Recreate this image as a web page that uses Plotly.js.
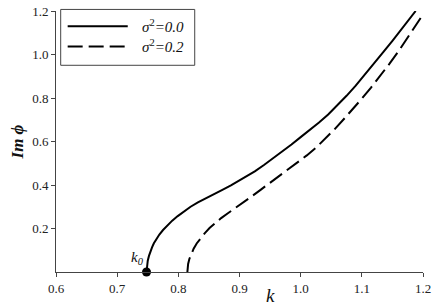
<!DOCTYPE html>
<html>
<head>
<meta charset="utf-8">
<script src="https://cdn.plot.ly/plotly-3.0.1.min.js"></script>
<style>html,body{margin:0;padding:0;background:#fff;}#chart{width:436px;height:307px;}</style>
</head>
<body>
<div id="chart"></div>
<script>
// sigma^2 = 0.0 (solid)
var k_s0 = [0.748, 0.7485, 0.749, 0.750, 0.752, 0.754, 0.757, 0.760, 0.764, 0.769, 0.775, 0.782, 0.790, 0.799, 0.809, 0.820, 0.832, 0.845, 0.858, 0.872, 0.886, 0.900, 0.910, 0.925, 0.940, 0.955, 0.970, 0.985, 1.000, 1.015, 1.030, 1.045, 1.060, 1.075, 1.090, 1.105, 1.120, 1.135, 1.150, 1.165, 1.178, 1.188];
var im_s0 = [0.0, 0.025, 0.036, 0.052, 0.074, 0.092, 0.113, 0.132, 0.152, 0.172, 0.193, 0.214, 0.236, 0.257, 0.279, 0.300, 0.320, 0.340, 0.358, 0.378, 0.398, 0.420, 0.437, 0.463, 0.492, 0.522, 0.553, 0.586, 0.620, 0.653, 0.687, 0.724, 0.766, 0.810, 0.857, 0.907, 0.959, 1.011, 1.063, 1.116, 1.163, 1.2];
// sigma^2 = 0.2 (dashed)
var k_s2 = [0.8148, 0.8153, 0.816, 0.818, 0.821, 0.825, 0.830, 0.836, 0.843, 0.851, 0.860, 0.870, 0.881, 0.893, 0.906, 0.920, 0.935, 0.950, 0.965, 0.980, 0.995, 1.010, 1.025, 1.040, 1.055, 1.070, 1.085, 1.100, 1.115, 1.130, 1.145, 1.160, 1.175, 1.188, 1.199];
var im_s2 = [0.0, 0.024, 0.037, 0.060, 0.083, 0.107, 0.131, 0.154, 0.178, 0.202, 0.225, 0.248, 0.270, 0.293, 0.319, 0.348, 0.379, 0.410, 0.441, 0.472, 0.503, 0.536, 0.571, 0.611, 0.655, 0.701, 0.748, 0.797, 0.848, 0.901, 0.957, 1.015, 1.077, 1.133, 1.18];
// critical point k0
var k0 = [0.748];
var k0y = [0];
var names = ['<i>σ</i><sup>2</sup><i>=0.0</i>', '<i>σ</i><sup>2</sup><i>=0.2</i>'];
var xTicks = [0.6, 0.7, 0.8, 0.9, 1.0, 1.1, 1.2];
var xTickText = ['0.6', '0.7', '0.8', '0.9', '1.0', '1.1', '1.2'];
var yTicks = [0.2, 0.4, 0.6, 0.8, 1.0, 1.2];
var yTickText = ['0.2', '0.4', '0.6', '0.8', '1.0', '1.2'];

var serif = '"Liberation Serif", "Times New Roman", serif';
var dashPat = '15px,6px';
var traces = [
  {x: k_s0, y: im_s0, mode: 'lines', name: names[0], showlegend: false, line: {color: '#000', width: 2, shape: 'linear'}},
  {x: k_s2, y: im_s2, mode: 'lines', name: names[1], showlegend: false, line: {color: '#000', width: 2, dash: dashPat, shape: 'linear'}},
  {x: k0, y: k0y, mode: 'markers', showlegend: false, cliponaxis: false, marker: {color: '#000', size: 9}}
];
// legend box drawn in paper coordinates
var shapes = [
  {type: 'rect', xref: 'paper', yref: 'paper', x0: 0.0128, x1: 0.378, y0: 0.792, y1: 1.006, line: {color: '#444', width: 1}, fillcolor: '#fff'},
  {type: 'line', xref: 'paper', yref: 'paper', x0: 0.0318, x1: 0.1955, y0: 0.9415, y1: 0.9415, line: {color: '#000', width: 2}},
  {type: 'line', xref: 'paper', yref: 'paper', x0: 0.0318, x1: 0.1955, y0: 0.864, y1: 0.864, line: {color: '#000', width: 2, dash: dashPat}}
];
var layout = {
  width: 436, height: 307,
  margin: {l: 56, r: 13, t: 11, b: 35},
  paper_bgcolor: '#fff', plot_bgcolor: '#fff',
  font: {family: serif, size: 13, color: '#222'},
  showlegend: false,
  shapes: shapes,
  xaxis: {range: [0.6, 1.2], tickvals: xTicks, ticktext: xTickText, showgrid: false, zeroline: false,
          showline: true, linecolor: '#444', linewidth: 1, ticks: 'outside', ticklen: 4, tickcolor: '#444',
          tickfont: {family: serif, size: 13, color: '#222'}},
  yaxis: {range: [0, 1.2], tickvals: yTicks, ticktext: yTickText, showgrid: false, zeroline: false,
          showline: true, linecolor: '#444', linewidth: 1, ticks: 'outside', ticklen: 4, tickcolor: '#444',
          tickfont: {family: serif, size: 13, color: '#222'},
          title: {text: '<i><b>Im ϕ</b></i>', font: {family: serif, size: 17, color: '#111'}, standoff: 4}},
  annotations: [
    {xref: 'paper', yref: 'paper', x: 0.585, y: -0.09, xanchor: 'center', yanchor: 'middle', showarrow: false,
     text: '<i>k</i>', font: {family: serif, size: 19, color: '#111'}},
    {xref: 'x', yref: 'y', x: 0.748, y: 0, xanchor: 'right', yanchor: 'bottom', xshift: -1, yshift: 3, showarrow: false,
     text: '<i>k</i><sub><i>0</i></sub>', font: {family: serif, size: 15, color: '#111'}},
    {xref: 'paper', yref: 'paper', x: 0.228, y: 0.9415, xanchor: 'left', yanchor: 'middle', showarrow: false,
     text: names[0], font: {family: serif, size: 15, color: '#111'}},
    {xref: 'paper', yref: 'paper', x: 0.228, y: 0.864, xanchor: 'left', yanchor: 'middle', showarrow: false,
     text: names[1], font: {family: serif, size: 15, color: '#111'}}
  ]
};
Plotly.newPlot('chart', traces, layout, {staticPlot: true, displayModeBar: false});
</script>
</body>
</html>
